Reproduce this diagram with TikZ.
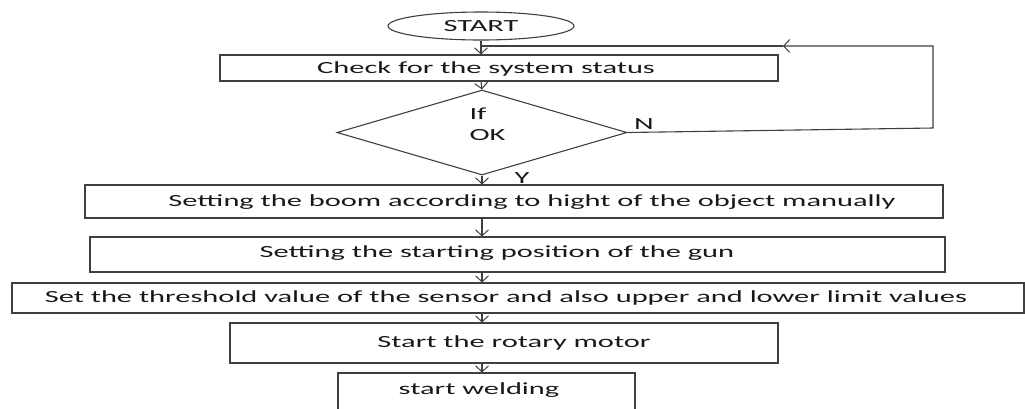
\documentclass[tikz,border=0pt]{standalone}
\usepackage{fontspec}
\setmainfont{Carlito}[FakeStretch=1.79]
\usetikzlibrary{arrows.meta,shapes.geometric}
\begin{document}
\begin{tikzpicture}[x=1pt,y=-1pt,
  line width=1.1pt,
  ln/.style={draw=black!75,line width=1.1pt},
  box/.style={ln,rectangle,inner sep=0pt},
  txt/.style={inner sep=0pt,font=\fontsize{17}{20}\selectfont,text=black!90},
  arr/.style={ln,-{Straight Barb[length=6pt,width=13pt,line width=1pt]}}]
\useasboundingbox (0,0) rectangle (1025,408);
\clip (0,0) rectangle (1025,408);
\fill[white] (0,0) rectangle (1025,408);
% start
\node[ellipse,ln,minimum width=186pt,minimum height=28pt,inner sep=0pt,txt] (start) at (481,26) {START};
% boxes
\node[box,minimum width=558pt,minimum height=26pt] (check) at (499,68) {};
\node[txt] (checkT) at (486,69) {Check for the system status};
\node[diamond,ln,minimum width=290pt,minimum height=85pt,inner sep=0pt] (dia) at (482,132.5) {};
\node[txt,align=left,anchor=west] (diaT) at (469,124) {If\\[1pt]OK};
\node[box,minimum width=858pt,minimum height=33pt] (boom) at (514,201.5) {};
\node[txt] (boomT) at (532,202) {Setting the boom according to hight of the object manually};
\node[box,minimum width=855pt,minimum height=35pt] (gun) at (517.5,254.5) {};
\node[txt] (gunT) at (497,253) {Setting the starting position of the gun};
\node[box,minimum width=1012pt,minimum height=30pt] (thr) at (518,298) {};
\node[txt] (thrT) at (506,298) {Set the threshold value of the sensor and also upper and lower limit values};
\node[box,minimum width=548pt,minimum height=40pt] (rot) at (504,343) {};
\node[txt] (rotT) at (514,343) {Start the rotary motor};
\node[box,minimum width=297pt,minimum height=38pt] (weld) at (486.5,392) {};
\node[txt] (weldT) at (479,390) {start welding};
% labels
\node[txt] (N) at (644,124) {N};
\node[txt] (Y) at (522,178) {Y};
% arrows
\draw[arr] (start.south) -- (start.south |- check.north);
\draw[arr] (start.south |- check.south) -- (dia.north);
\draw[arr] (dia.south) -- (dia.south |- boom.north);
\draw[arr] (dia.south |- boom.south) -- (dia.south |- gun.north);
\draw[arr] (dia.south |- gun.south) -- (dia.south |- thr.north);
\draw[arr] (dia.south |- thr.south) -- (dia.south |- rot.north);
\draw[arr] (dia.south |- rot.south) -- (dia.south |- weld.north);
% loop back
\coordinate (loopR) at (933,128);
\coordinate (loopTip) at (783,46);
\draw[arr] (dia.east) -- (loopR) |- (loopTip);
\draw[ln] (loopTip) -- (start.south |- loopTip);
\end{tikzpicture}
\end{document}
